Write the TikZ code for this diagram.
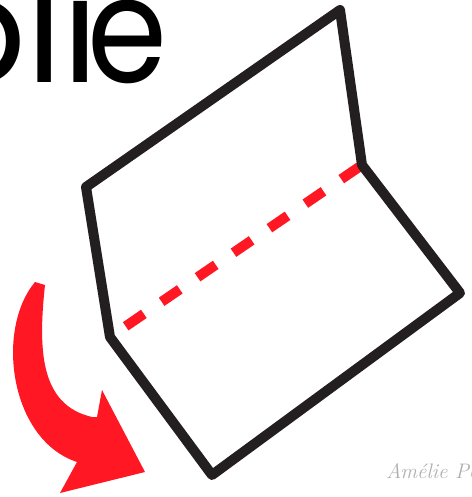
\documentclass[tikz,border=0pt]{standalone}
\usepackage{fontspec}
\usepackage{graphicx}
\newfontfamily\popfont{Poppins}
\definecolor{arrowred}{RGB}{255,23,36}
\definecolor{outlineblack}{RGB}{35,31,32}
\definecolor{siggray}{RGB}{175,175,175}
\begin{document}
\begin{tikzpicture}[x=1pt,y=-1pt,
  paper/.style={draw=outlineblack,line width=10pt,line join=round},
  foldline/.style={draw=arrowred,line width=10pt,dash pattern=on 22pt off 21.5pt},
  titletext/.style={inner sep=0pt,font=\popfont\fontsize{148}{148}\selectfont,text=black},
  signature/.style={inner sep=0pt,font=\itshape\fontsize{21}{21}\selectfont,text=siggray}]
\useasboundingbox (0,0) rectangle (471,497);
\node[titletext,anchor=base east] (title) at (168,83) {pli\kern-11pt\scalebox{0.87}[1]{e}};
\coordinate (A) at (110,337);
\coordinate (B) at (86,187);
\coordinate (C) at (340,10);
\coordinate (D) at (362,165);
\coordinate (E) at (460,293);
\coordinate (F) at (212,475);
\draw[foldline,shorten <=19pt] (A) -- (D);
\draw[paper] (A) -- (B) -- (C) -- (D) -- (E) -- (F) -- cycle;
\fill[arrowred] (35,282) -- (45,285) .. controls (38,350) and (40,405) .. (92,417)
  -- (97,417) -- (102,390) -- (145,472) -- (60,493) -- (77,462)
  .. controls (10,440) and (-5,330) .. (35,282) -- cycle;
\node[signature,anchor=base west] (sig) at (386,478) {Amélie Pep};
\end{tikzpicture}
\end{document}
